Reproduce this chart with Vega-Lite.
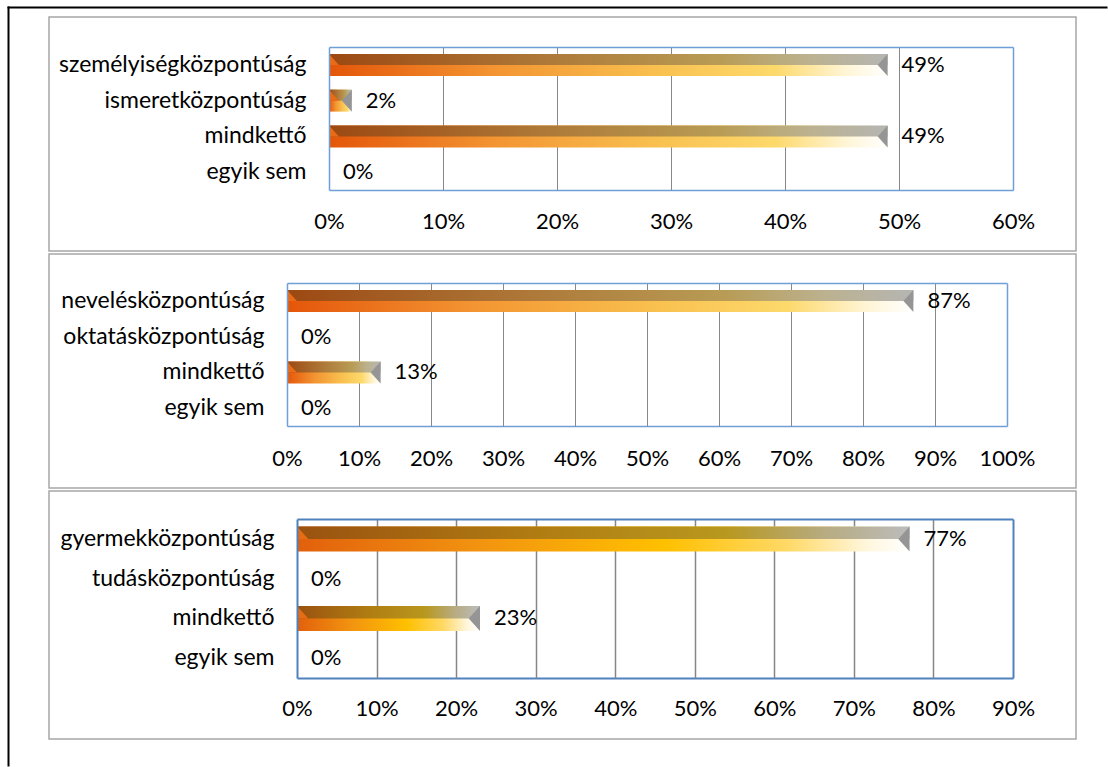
{
  "$schema": "https://vega.github.io/schema/vega-lite/v6.json",
  "padding": {"left": 7, "top": 6, "right": 0, "bottom": 0},
  "background": "white",
  "spacing": 3,
  "bounds": "flush",
  "config": {
    "font": "Lato",
    "view": {"stroke": "#a6a6a6", "strokeWidth": 1.5},
    "axis": {"labelFont": "Lato", "labelFontSize": 22, "labelColor": "#000000", "ticks": false, "tickSize": 0, "title": null, "labelOverlap": false, "labelFlush": false, "labelLimit": 600, "grid": false}
  },
  "datasets": {
    "p1": [
      {"cat": "személyiségközpontúság", "value": 0.49},
      {"cat": "ismeretközpontúság", "value": 0.02},
      {"cat": "mindkettő", "value": 0.49},
      {"cat": "egyik sem", "value": 0}
    ],
    "p2": [
      {"cat": "nevelésközpontúság", "value": 0.87},
      {"cat": "oktatásközpontúság", "value": 0},
      {"cat": "mindkettő", "value": 0.13},
      {"cat": "egyik sem", "value": 0}
    ],
    "p3": [
      {"cat": "gyermekközpontúság", "value": 0.77},
      {"cat": "tudásközpontúság", "value": 0},
      {"cat": "mindkettő", "value": 0.23},
      {"cat": "egyik sem", "value": 0}
    ]
  },
  "vconcat": [
    {
      "width": 1027, "height": 234,
      "data": {"name": "p1"},
      "resolve": {"scale": {"x": "independent", "y": "independent"}, "axis": {"x": "independent", "y": "independent"}},
      "layer": [
        {
          "mark": {"type": "bar", "size": 22, "color": {"gradient": "linear", "x1": 0, "y1": 0, "x2": 1, "y2": 0, "stops": [
            {"offset": 0, "color": "#e4560a"}, {"offset": 0.3, "color": "#f39532"}, {"offset": 0.6, "color": "#f9c251"}, {"offset": 0.8, "color": "#fdd96c"}, {"offset": 0.92, "color": "#fff4d2"}, {"offset": 1, "color": "#ffffff"}]}},
          "encoding": {
            "x": {"field": "value", "type": "quantitative", "scale": {"domain": [0, 0.6], "range": [280, 964], "nice": false},
                  "axis": {"orient": "bottom", "offset": -61, "format": ".0%", "values": [0, 0.1, 0.2, 0.3, 0.4, 0.5, 0.6], "domainColor": "#6f9fd8", "domainWidth": 1.5, "labelPadding": 31, "labelBaseline": "middle"}},
            "y": {"field": "cat", "type": "nominal", "sort": null, "scale": {"domain": ["személyiségközpontúság", "ismeretközpontúság", "mindkettő", "egyik sem"], "range": [30, 173], "paddingInner": 0, "paddingOuter": 0},
                  "axis": {"orient": "left", "offset": -280, "domainColor": "#6f9fd8", "domainWidth": 1.5, "labelPadding": 23, "labelFontSize": 23, "zindex": 1}}
          }
        },
        {
          "mark": {"type": "bar", "size": 11, "yOffset": -5.5, "color": {"gradient": "linear", "x1": 0, "y1": 0, "x2": 1, "y2": 0, "stops": [
            {"offset": 0, "color": "#9c4912"}, {"offset": 0.4, "color": "#ae7a3a"}, {"offset": 0.7, "color": "#b89c55"}, {"offset": 0.86, "color": "#bcb290"}, {"offset": 1, "color": "#b5b5b2"}]}},
          "encoding": {
            "x": {"field": "value", "type": "quantitative", "scale": {"domain": [0, 0.6], "range": [280, 964], "nice": false}, "axis": null},
            "y": {"field": "cat", "type": "nominal", "sort": null, "scale": {"domain": ["személyiségközpontúság", "ismeretközpontúság", "mindkettő", "egyik sem"], "range": [30, 173], "paddingInner": 0, "paddingOuter": 0}, "axis": null}
          }
        },
        {
          "transform": [{"filter": "datum.value > 0"}],
          "mark": {"type": "point", "shape": "M0,-1L0,0L0.9,0Z", "size": 484, "filled": true, "color": "#ea6a16", "opacity": 1, "strokeWidth": 0},
          "encoding": {
            "x": {"datum": 0, "type": "quantitative", "scale": {"domain": [0, 0.6], "range": [280, 964], "nice": false}, "axis": null},
            "y": {"field": "cat", "type": "nominal", "sort": null, "scale": {"domain": ["személyiségközpontúság", "ismeretközpontúság", "mindkettő", "egyik sem"], "range": [30, 173], "paddingInner": 0, "paddingOuter": 0}, "axis": null}
          }
        },
        {
          "transform": [{"filter": "datum.value > 0"}],
          "mark": {"type": "point", "shape": "M0,-1L0,1L-0.9,0Z", "size": 484, "filled": true, "color": "#959595", "opacity": 1, "strokeWidth": 0},
          "encoding": {
            "x": {"field": "value", "type": "quantitative", "scale": {"domain": [0, 0.6], "range": [280, 964], "nice": false}, "axis": null},
            "y": {"field": "cat", "type": "nominal", "sort": null, "scale": {"domain": ["személyiségközpontúság", "ismeretközpontúság", "mindkettő", "egyik sem"], "range": [30, 173], "paddingInner": 0, "paddingOuter": 0}, "axis": null}
          }
        },
        {
          "mark": {"type": "text", "align": "left", "baseline": "middle", "dx": 14, "fontSize": 22, "font": "Lato", "color": "#000000"},
          "encoding": {
            "x": {"field": "value", "type": "quantitative", "scale": {"domain": [0, 0.6], "range": [280, 964], "nice": false},
                  "axis": {"orient": "top", "offset": -30, "labels": false, "values": [0.1, 0.2, 0.3, 0.4, 0.5], "ticks": true, "tickSize": -143, "tickColor": "#888888", "tickWidth": 1, "domainColor": "#6f9fd8", "domainWidth": 1.5}},
            "y": {"field": "cat", "type": "nominal", "sort": null, "scale": {"domain": ["személyiségközpontúság", "ismeretközpontúság", "mindkettő", "egyik sem"], "range": [30, 173], "paddingInner": 0, "paddingOuter": 0},
                  "axis": {"orient": "right", "offset": -63, "labels": false, "domainColor": "#6f9fd8", "domainWidth": 1.5}},
            "text": {"field": "value", "type": "quantitative", "format": ".0%"}
          }
        },
        {
          "mark": {"type": "point", "opacity": 0, "size": 1},
          "encoding": {
            "x": {"datum": 0.5, "type": "quantitative", "scale": {"domain": [0, 1], "range": [-42, 1058], "nice": false, "zero": false},
                  "axis": {"orient": "top", "offset": 10, "labels": false, "domainColor": "#000000", "domainWidth": 2}},
            "y": {"datum": 0.5, "type": "quantitative", "scale": {"domain": [0, 1], "range": [-11, 749], "nice": false, "zero": false},
                  "axis": {"orient": "left", "offset": 41, "labels": false, "domainColor": "#000000", "domainWidth": 2}}
          }
        }
      ]
    },
    {
      "width": 1027, "height": 234,
      "data": {"name": "p2"},
      "resolve": {"axis": {"x": "independent", "y": "independent"}},
      "layer": [
        {
          "mark": {"type": "bar", "size": 22, "color": {"gradient": "linear", "x1": 0, "y1": 0, "x2": 1, "y2": 0, "stops": [
            {"offset": 0, "color": "#e4560a"}, {"offset": 0.3, "color": "#f39532"}, {"offset": 0.6, "color": "#f9c251"}, {"offset": 0.8, "color": "#fdd96c"}, {"offset": 0.92, "color": "#fff4d2"}, {"offset": 1, "color": "#ffffff"}]}},
          "encoding": {
            "x": {"field": "value", "type": "quantitative", "scale": {"domain": [0, 1], "range": [238, 958], "nice": false},
                  "axis": {"orient": "bottom", "offset": -62, "format": ".0%", "values": [0, 0.1, 0.2, 0.3, 0.4, 0.5, 0.6, 0.7, 0.8, 0.9, 1], "domainColor": "#6f9fd8", "domainWidth": 1.5, "labelPadding": 32, "labelBaseline": "middle"}},
            "y": {"field": "cat", "type": "nominal", "sort": null, "scale": {"domain": ["nevelésközpontúság", "oktatásközpontúság", "mindkettő", "egyik sem"], "range": [29, 172], "paddingInner": 0, "paddingOuter": 0},
                  "axis": {"orient": "left", "offset": -238, "domainColor": "#6f9fd8", "domainWidth": 1.5, "labelPadding": 23, "labelFontSize": 23, "zindex": 1}}
          }
        },
        {
          "mark": {"type": "bar", "size": 11, "yOffset": -5.5, "color": {"gradient": "linear", "x1": 0, "y1": 0, "x2": 1, "y2": 0, "stops": [
            {"offset": 0, "color": "#9c4912"}, {"offset": 0.4, "color": "#ae7a3a"}, {"offset": 0.7, "color": "#b89c55"}, {"offset": 0.86, "color": "#bcb290"}, {"offset": 1, "color": "#b5b5b2"}]}},
          "encoding": {
            "x": {"field": "value", "type": "quantitative", "axis": null},
            "y": {"field": "cat", "type": "nominal", "sort": null, "axis": null}
          }
        },
        {
          "transform": [{"filter": "datum.value > 0"}],
          "mark": {"type": "point", "shape": "M0,-1L0,0L0.9,0Z", "size": 484, "filled": true, "color": "#ea6a16", "opacity": 1, "strokeWidth": 0},
          "encoding": {
            "x": {"datum": 0, "type": "quantitative", "axis": null},
            "y": {"field": "cat", "type": "nominal", "sort": null, "axis": null}
          }
        },
        {
          "transform": [{"filter": "datum.value > 0"}],
          "mark": {"type": "point", "shape": "M0,-1L0,1L-0.9,0Z", "size": 484, "filled": true, "color": "#959595", "opacity": 1, "strokeWidth": 0},
          "encoding": {
            "x": {"field": "value", "type": "quantitative", "axis": null},
            "y": {"field": "cat", "type": "nominal", "sort": null, "axis": null}
          }
        },
        {
          "mark": {"type": "text", "align": "left", "baseline": "middle", "dx": 14, "fontSize": 22, "font": "Lato", "color": "#000000"},
          "encoding": {
            "x": {"field": "value", "type": "quantitative",
                  "axis": {"orient": "top", "offset": -29, "labels": false, "values": [0.1, 0.2, 0.3, 0.4, 0.5, 0.6, 0.7, 0.8, 0.9], "ticks": true, "tickSize": -143, "tickColor": "#888888", "tickWidth": 1, "domainColor": "#6f9fd8", "domainWidth": 1.5}},
            "y": {"field": "cat", "type": "nominal", "sort": null,
                  "axis": {"orient": "right", "offset": -69, "labels": false, "domainColor": "#6f9fd8", "domainWidth": 1.5}},
            "text": {"field": "value", "type": "quantitative", "format": ".0%"}
          }
        }
      ]
    },
    {
      "width": 1027, "height": 248,
      "data": {"name": "p3"},
      "resolve": {"axis": {"x": "independent", "y": "independent"}},
      "layer": [
        {
          "mark": {"type": "bar", "size": 25, "color": {"gradient": "linear", "x1": 0, "y1": 0, "x2": 1, "y2": 0, "stops": [
            {"offset": 0, "color": "#e2600c"}, {"offset": 0.3, "color": "#f29410"}, {"offset": 0.6, "color": "#ffc000"}, {"offset": 0.8, "color": "#ffd966"}, {"offset": 0.93, "color": "#fff6dc"}, {"offset": 1, "color": "#ffffff"}]}},
          "encoding": {
            "x": {"field": "value", "type": "quantitative", "scale": {"domain": [0, 0.9], "range": [248, 964], "nice": false},
                  "axis": {"orient": "bottom", "offset": -61, "format": ".0%", "values": [0, 0.1, 0.2, 0.3, 0.4, 0.5, 0.6, 0.7, 0.8, 0.9], "domainColor": "#4f81bd", "domainWidth": 2, "labelPadding": 30, "labelBaseline": "middle"}},
            "y": {"field": "cat", "type": "nominal", "sort": null, "scale": {"domain": ["gyermekközpontúság", "tudásközpontúság", "mindkettő", "egyik sem"], "range": [28, 187], "paddingInner": 0, "paddingOuter": 0},
                  "axis": {"orient": "left", "offset": -248, "domainColor": "#4f81bd", "domainWidth": 2, "labelPadding": 23, "labelFontSize": 23, "zindex": 1}}
          }
        },
        {
          "mark": {"type": "bar", "size": 12.5, "yOffset": -6.25, "color": {"gradient": "linear", "x1": 0, "y1": 0, "x2": 1, "y2": 0, "stops": [
            {"offset": 0, "color": "#9a5210"}, {"offset": 0.4, "color": "#b07d12"}, {"offset": 0.7, "color": "#b8981e"}, {"offset": 0.86, "color": "#b7ab80"}, {"offset": 1, "color": "#bcbcbc"}]}},
          "encoding": {
            "x": {"field": "value", "type": "quantitative", "axis": null},
            "y": {"field": "cat", "type": "nominal", "sort": null, "axis": null}
          }
        },
        {
          "transform": [{"filter": "datum.value > 0"}],
          "mark": {"type": "point", "shape": "M0,-1L0,0L0.9,0Z", "size": 625, "filled": true, "color": "#e86c12", "opacity": 1, "strokeWidth": 0},
          "encoding": {
            "x": {"datum": 0, "type": "quantitative", "axis": null},
            "y": {"field": "cat", "type": "nominal", "sort": null, "axis": null}
          }
        },
        {
          "transform": [{"filter": "datum.value > 0"}],
          "mark": {"type": "point", "shape": "M0,-1L0,1L-0.9,0Z", "size": 625, "filled": true, "color": "#959595", "opacity": 1, "strokeWidth": 0},
          "encoding": {
            "x": {"field": "value", "type": "quantitative", "axis": null},
            "y": {"field": "cat", "type": "nominal", "sort": null, "axis": null}
          }
        },
        {
          "mark": {"type": "text", "align": "left", "baseline": "middle", "dx": 14, "fontSize": 22, "font": "Lato", "color": "#000000"},
          "encoding": {
            "x": {"field": "value", "type": "quantitative",
                  "axis": {"orient": "top", "offset": -28, "labels": false, "values": [0.1, 0.2, 0.3, 0.4, 0.5, 0.6, 0.7, 0.8], "ticks": true, "tickSize": -159, "tickColor": "#868686", "tickWidth": 1.5, "domainColor": "#4f81bd", "domainWidth": 2}},
            "y": {"field": "cat", "type": "nominal", "sort": null,
                  "axis": {"orient": "right", "offset": -63, "labels": false, "domainColor": "#4f81bd", "domainWidth": 2}},
            "text": {"field": "value", "type": "quantitative", "format": ".0%"}
          }
        }
      ]
    }
  ]
}
